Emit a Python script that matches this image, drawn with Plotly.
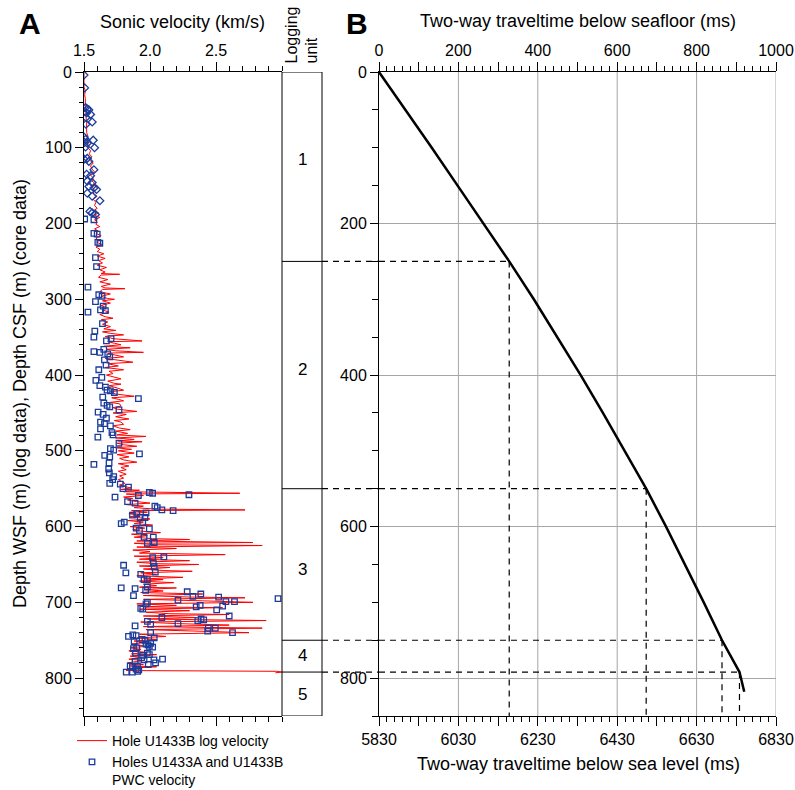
import plotly.graph_objects as go

W, H = 795, 790
FONT = "Liberation Sans, Arial, Helvetica, sans-serif"

def px(x):
    return x / W

def py(y):
    return 1 - y / H

# ---------------- Panel A data ----------------
# Hole U1433B log velocity (depth m, velocity km/s)
log_depth = [
    0, 5, 10, 15, 20, 25, 30, 35, 40, 45,
    50, 55, 60, 65, 70, 75, 80, 85, 90, 95,
    100, 104, 108, 112, 116, 120, 124, 128, 132, 136,
    140, 144, 148, 152, 156, 160, 164, 168, 172, 176,
    180, 183, 186, 189, 192, 195, 198, 201, 204, 207,
    210, 213, 216, 219, 222, 225, 228, 231, 234, 237,
    240, 243, 246, 249, 252, 255, 258, 261, 264, 266,
    267, 268, 271, 274, 277, 280, 283, 285, 286, 287,
    290, 293, 296, 299, 300, 302, 305, 308, 311, 314,
    317, 320, 323, 325, 327, 330, 333, 336, 339, 341,
    343, 345, 347, 349, 352, 355, 356, 358, 360, 362,
    364, 366, 368, 370, 371, 373, 376, 378, 380, 383,
    385, 388, 390, 393, 395, 398, 400, 403, 405, 408,
    411, 412, 414, 417, 420, 422, 425, 428, 430, 432,
    434, 436, 438, 441, 443, 445, 448, 450, 452, 455,
    458, 460, 462, 465, 467, 470, 472, 474, 477, 479,
    481, 483, 485, 487, 488, 490, 492, 494, 496, 498,
    500, 503, 505, 508, 510, 512, 515, 517, 520, 522,
    525, 527, 529, 531, 533, 536, 538, 540, 543, 545,
    547, 549, 551, 552, 554, 556, 557, 559, 561, 563,
    565, 567, 569, 571, 573, 575, 577, 578, 579, 581,
    583, 585, 587, 590, 592, 594, 596, 598, 600, 602,
    604, 606, 608, 610, 612, 614, 616, 617, 619, 621,
    622, 624, 625, 627, 629, 631, 633, 635, 637, 639,
    641, 643, 645, 647, 649, 650, 652, 654, 656, 658,
    659, 661, 663, 665, 667, 669, 670, 672, 674, 676,
    678, 680, 681, 683, 685, 687, 689, 691, 693, 694,
    696, 698, 700, 702, 704, 706, 707, 709, 711, 713,
    715, 716, 718, 720, 722, 724, 726, 728, 730, 732,
    734, 736, 738, 740, 742, 744, 745, 747, 749, 751,
    753, 755, 757, 758, 760, 762, 764, 766, 768, 769,
    771, 773, 775, 777, 778, 780, 782, 784, 785, 787,
    789, 790, 791, 792, 793,
]
log_velocity = [
    1.50, 1.50, 1.50, 1.505, 1.50, 1.51, 1.505, 1.51, 1.51, 1.515,
    1.51, 1.52, 1.515, 1.52, 1.52, 1.525, 1.52, 1.53, 1.525, 1.53,
    1.53, 1.55, 1.54, 1.56, 1.54, 1.57, 1.55, 1.56, 1.58, 1.55,
    1.57, 1.56, 1.59, 1.56, 1.58, 1.57, 1.60, 1.57, 1.59, 1.58,
    1.60, 1.57, 1.61, 1.58, 1.62, 1.58, 1.60, 1.59, 1.62, 1.58,
    1.61, 1.59, 1.63, 1.59, 1.61, 1.60, 1.64, 1.59, 1.62, 1.60,
    1.65, 1.60, 1.66, 1.61, 1.64, 1.60, 1.67, 1.62, 1.66, 1.63,
    1.77, 1.63, 1.61, 1.68, 1.62, 1.70, 1.63, 1.66, 1.81, 1.64,
    1.62, 1.70, 1.63, 1.68, 1.73, 1.64, 1.70, 1.63, 1.67, 1.64,
    1.69, 1.62, 1.66, 1.72, 1.63, 1.68, 1.64, 1.70, 1.65, 1.74,
    1.64, 1.70, 1.80, 1.66, 1.72, 1.94, 1.68, 1.73, 1.78, 1.65,
    1.85, 1.67, 1.74, 1.95, 1.68, 1.72, 1.80, 1.66, 1.75, 1.87,
    1.68, 1.76, 1.66, 1.80, 1.69, 1.72, 1.67, 1.74, 1.78, 1.68,
    1.73, 1.78, 1.69, 1.75, 1.80, 1.70, 1.74, 1.88, 1.71, 1.76,
    1.80, 1.70, 1.77, 1.78, 1.72, 1.75, 1.90, 1.72, 1.82, 1.74,
    1.84, 1.73, 1.78, 1.80, 1.72, 1.77, 1.85, 1.74, 1.83, 1.75,
    1.97, 1.74, 1.88, 1.76, 1.94, 1.75, 1.80, 1.90, 1.74, 1.86,
    1.76, 1.88, 1.75, 1.84, 1.77, 1.80, 1.90, 1.76, 1.84, 1.78,
    1.82, 1.76, 1.80, 1.82, 1.77, 1.80, 1.76, 1.78, 1.81, 1.77,
    1.80, 1.86, 1.78, 1.92, 1.80, 2.68, 1.82, 1.95, 1.80, 1.87,
    1.83, 1.90, 2.00, 1.82, 1.95, 1.88, 2.05, 2.72, 1.86, 1.98,
    1.84, 1.92, 1.85, 2.00, 1.83, 1.95, 1.88, 2.02, 1.85, 1.96,
    1.87, 1.93, 2.08, 1.86, 1.98, 1.88, 2.02, 2.30, 1.90, 2.78,
    1.88, 2.05, 2.85, 1.90, 2.20, 1.87, 2.00, 1.92, 2.57, 1.88,
    2.10, 1.92, 2.30, 1.90, 2.05, 2.37, 1.92, 2.15, 1.95, 2.10,
    2.32, 1.93, 2.05, 1.90, 2.25, 1.95, 2.10, 1.92, 2.18, 1.95,
    2.05, 1.92, 2.20, 1.96, 2.10, 1.93, 2.40, 1.95, 2.30, 2.72,
    1.95, 2.40, 2.78, 1.90, 2.20, 1.96, 2.55, 1.92, 2.30, 1.97,
    2.15, 2.60, 1.95, 2.35, 1.98, 2.88, 1.93, 2.20, 2.60, 1.95,
    2.85, 1.97, 2.40, 2.75, 1.92, 2.05, 2.12, 1.90, 2.05, 1.88,
    1.97, 1.86, 1.95, 1.97, 1.85, 1.93, 1.84, 1.98, 1.86, 2.05,
    1.85, 1.93, 1.84, 1.96, 1.90, 1.83, 1.95, 1.85, 2.05, 1.84,
    1.88, 1.82, 2.96, 3.00, 2.95,
]

# PWC velocity, shallow section (diamond symbols)
pwc_shallow_depth = [
    4, 21, 47, 49, 50, 54, 56, 60, 66, 69,
    86, 89, 90, 93, 94, 100, 99, 115, 114, 118,
    129, 135, 137, 144, 146, 151, 153, 155, 160, 164,
    170, 184, 186, 188,
]
pwc_shallow_velocity = [
    1.500, 1.505, 1.512, 1.525, 1.537, 1.520, 1.550, 1.515, 1.562, 1.515,
    1.500, 1.512, 1.570, 1.505, 1.525, 1.580, 1.512, 1.500, 1.525, 1.537,
    1.575, 1.520, 1.550, 1.525, 1.562, 1.537, 1.575, 1.595, 1.525, 1.562,
    1.620, 1.545, 1.562, 1.587,
]

# PWC velocity, deeper section (square symbols)
pwc_depth = [
    194, 195, 213, 214, 225, 226, 245, 257, 284, 294,
    296, 303, 309, 317, 314, 315, 332, 342, 350, 352,
    355, 369, 370, 366, 372, 376, 380, 387, 393, 403,
    407, 414, 416, 420, 421, 423, 429, 431, 437, 440,
    442, 446, 449, 452, 457, 462, 464, 467, 471, 476,
    479, 482, 490, 497, 499, 504, 506, 508, 518, 516,
    524, 529, 534, 538, 543, 544, 548, 550, 561, 559,
    555, 556, 558, 567, 569, 573, 575, 578, 579, 583,
    582, 585, 588, 588, 594, 596, 595, 602, 605, 603,
    614, 614, 622, 621, 641, 640, 651, 648, 653, 661,
    663, 660, 670, 670, 681, 682, 680, 684, 691, 686,
    692, 689, 697, 693, 699, 699, 702, 700, 704, 706,
    710, 705, 708, 709, 695, 720, 718, 724, 722, 723,
    728, 725, 729, 731, 734, 734, 738, 740, 740, 745,
    743, 744, 747, 752, 749, 750, 755, 756, 758, 754,
    759, 761, 760, 767, 769, 767, 770, 773, 778, 776,
    776, 780, 782, 775, 784, 785, 784, 788, 789, 791,
    792, 792,
]
pwc_velocity = [
    1.505, 1.575, 1.575, 1.600, 1.605, 1.620, 1.587, 1.595, 1.530, 1.612,
    1.637, 1.587, 1.645, 1.530, 1.625, 1.662, 1.640, 1.582, 1.575, 1.705,
    1.670, 1.575, 1.620, 1.650, 1.680, 1.695, 1.655, 1.667, 1.612, 1.635,
    1.590, 1.620, 1.662, 1.675, 1.700, 1.730, 1.642, 1.912, 1.650, 1.675,
    1.695, 1.765, 1.607, 1.645, 1.670, 1.625, 1.655, 1.700, 1.625, 1.712,
    1.720, 1.605, 1.765, 1.700, 1.725, 1.920, 1.657, 1.695, 1.575, 1.690,
    1.687, 1.692, 1.725, 1.717, 1.695, 1.775, 1.837, 1.795, 1.735, 1.912,
    1.995, 2.020, 2.295, 1.830, 1.887, 2.037, 2.055, 2.090, 2.175, 1.900,
    1.970, 1.867, 1.925, 1.962, 1.805, 1.782, 1.945, 1.895, 1.920, 1.995,
    1.955, 2.025, 1.980, 2.032, 2.020, 2.105, 1.800, 2.025, 2.032, 1.817,
    1.930, 2.040, 1.955, 1.980, 1.782, 1.887, 1.980, 1.967, 1.875, 2.282,
    2.325, 2.385, 2.212, 2.520, 2.575, 2.640, 1.970, 1.980, 2.380, 2.350,
    2.505, 2.550, 1.930, 1.945, 2.970, 2.090, 2.600, 2.362, 2.387, 2.407,
    2.212, 1.980, 2.005, 1.887, 2.495, 2.442, 2.437, 2.625, 2.005, 1.837,
    1.870, 1.895, 2.032, 1.880, 1.940, 1.962, 1.970, 1.985, 1.995, 2.005,
    2.020, 1.875, 1.900, 1.980, 1.995, 1.890, 1.945, 1.937, 1.887, 1.955,
    2.030, 2.042, 1.987, 2.095, 1.850, 1.867, 1.905, 1.895, 1.915, 1.907,
    1.820, 1.867,
]

# Logging units
unit_names = ["1", "2", "3", "4", "5"]
unit_label_depth = [115, 392, 657, 770, 821]
unit_boundary_depth = [250, 550, 750, 792]

# ---------------- Panel B data ----------------
twt_depth = [0, 50, 100, 150, 200, 250, 300, 350, 400, 450, 500, 550, 600, 650, 700, 750, 792, 818]
twt_below_seafloor = [0, 67, 133, 198, 264, 328, 390, 450, 508, 564, 619, 673, 723, 771, 818, 864, 908, 920]
boundary_twt = [328, 673, 864, 908]

depth_range = [850, 0]
top_ticks = [0, 100, 200, 300, 400, 500, 600, 700, 800, 900, 1000]
top_tick_text = ["0", "", "200", "", "400", "", "600", "", "800", "", "1000"]
bottom_ticks = [5830, 5930, 6030, 6130, 6230, 6330, 6430, 6530, 6630, 6730, 6830]
bottom_tick_text = ["5830", "", "6030", "", "6230", "", "6430", "", "6630", "", "6830"]
twt_grid = [200, 400, 600, 800, 1000]

BLUE = "#1c3c9c"
GRID = "#a6a6a6"

fig = go.Figure()

fig.add_trace(go.Scatter(
    x=log_velocity, y=log_depth, mode="lines",
    line=dict(color="#ff0000", width=1),
    name="Hole U1433B log velocity", xaxis="x", yaxis="y",
))
fig.add_trace(go.Scatter(
    x=pwc_shallow_velocity, y=pwc_shallow_depth, mode="markers",
    marker=dict(symbol="diamond-open", size=6, color=BLUE, line=dict(width=1.3, color=BLUE)),
    showlegend=False, xaxis="x", yaxis="y",
))
fig.add_trace(go.Scatter(
    x=pwc_velocity, y=pwc_depth, mode="markers",
    marker=dict(symbol="square-open", size=5.5, color=BLUE, line=dict(width=1.3, color=BLUE)),
    name="Holes U1433A and U1433B<br>PWC velocity", xaxis="x", yaxis="y",
))
fig.add_trace(go.Scatter(
    x=twt_below_seafloor, y=twt_depth, mode="lines",
    line=dict(color="black", width=2.5),
    showlegend=False, xaxis="x2", yaxis="y2",
))
# empty trace so that the sea-level (bottom) axis of panel B gets drawn
fig.add_trace(go.Scatter(
    x=[None], y=[None], mode="markers", showlegend=False, hoverinfo="skip",
    xaxis="x4", yaxis="y2",
))

ydom = [py(716), py(72)]
tickfont = dict(family=FONT, size=16, color="black")

fig.update_layout(
    width=W, height=H, autosize=False,
    margin=dict(l=0, r=0, t=0, b=0, pad=0, autoexpand=False),
    paper_bgcolor="white", plot_bgcolor="rgba(0,0,0,0)",
    font=dict(family=FONT, size=16, color="black"),
    xaxis=dict(
        domain=[px(84), px(282)], range=[1.5, 3.0], side="top", anchor="y",
        tickvals=[1.5, 2.0, 2.5], ticktext=["1.5", "2.0", "2.5"],
        ticks="outside", ticklen=9, tickwidth=1, tickcolor="black",
        minor=dict(dtick=0.1, tick0=1.5, ticks="outside", ticklen=5, tickcolor="black", tickwidth=1),
        showline=True, linecolor="black", linewidth=1, mirror="ticks",
        showgrid=False, zeroline=False, tickfont=tickfont,
    ),
    yaxis=dict(
        domain=ydom, range=depth_range, anchor="x",
        tick0=0, dtick=100, ticks="outside", ticklen=8, tickwidth=1, tickcolor="black",
        minor=dict(dtick=20, tick0=0, ticks="outside", ticklen=4, tickcolor="black", tickwidth=1),
        showline=True, linecolor="black", linewidth=1,
        showgrid=False, zeroline=False, tickfont=tickfont,
    ),
    xaxis2=dict(
        domain=[px(379), px(776)], range=[0, 1000], side="top", anchor="y2",
        tickvals=top_ticks, ticktext=top_tick_text,
        ticks="outside", ticklen=9, tickwidth=1, tickcolor="black",
        minor=dict(dtick=20, tick0=0, ticks="outside", ticklen=5, tickcolor="black", tickwidth=1),
        showline=True, linecolor="black", linewidth=1,
        showgrid=False, zeroline=False, tickfont=tickfont,
    ),
    xaxis4=dict(
        overlaying="x2", range=[5830, 6830], side="bottom", anchor="y2",
        tickvals=bottom_ticks, ticktext=bottom_tick_text,
        ticks="outside", ticklen=9, tickwidth=1, tickcolor="black",
        minor=dict(dtick=20, tick0=5830, ticks="outside", ticklen=5, tickcolor="black", tickwidth=1),
        showline=True, linecolor="black", linewidth=1,
        showgrid=False, zeroline=False, tickfont=tickfont,
    ),
    yaxis2=dict(
        domain=ydom, range=depth_range, anchor="x2",
        tick0=0, dtick=200, ticks="outside", ticklen=8, tickwidth=1, tickcolor="black",
        minor=dict(dtick=50, tick0=0, ticks="outside", ticklen=6, tickcolor="black", tickwidth=1),
        showline=True, linecolor="black", linewidth=1,
        showgrid=True, gridcolor=GRID, gridwidth=1, zeroline=False, tickfont=tickfont,
    ),
    legend=dict(
        x=px(72), y=py(725), xanchor="left", yanchor="top",
        bgcolor="rgba(0,0,0,0)", font=dict(family=FONT, size=14),
        valign="top", tracegroupgap=0, itemwidth=30,
    ),
    showlegend=True,
)

shapes = []
# vertical gridlines of panel B
for g in twt_grid:
    shapes.append(dict(type="line", xref="x2", yref="paper", x0=g, x1=g, y0=ydom[0], y1=ydom[1],
                       line=dict(color=GRID, width=1), layer="below"))
# logging unit column
shapes.append(dict(type="rect", xref="paper", yref="y", x0=px(282), x1=px(322), y0=0, y1=850,
                   line=dict(color="black", width=1)))
for d in unit_boundary_depth:
    shapes.append(dict(type="line", xref="paper", yref="y", x0=px(282), x1=px(322), y0=d, y1=d,
                       line=dict(color="black", width=1)))
# dashed connection lines
for d, t in zip(unit_boundary_depth, boundary_twt):
    shapes.append(dict(type="line", xref="paper", yref="y2", x0=px(322), x1=px(379), y0=d, y1=d,
                       line=dict(color="black", width=1.2, dash="6px,5px")))
    shapes.append(dict(type="line", xref="x2", yref="y2", x0=0, x1=t, y0=d, y1=d,
                       line=dict(color="black", width=1.2, dash="6px,5px")))
    shapes.append(dict(type="line", xref="x2", yref="y2", x0=t, x1=t, y0=d, y1=850,
                       line=dict(color="black", width=1.2, dash="6px,5px")))
fig.update_layout(shapes=shapes)


def label(text, x, y, size, angle=0, xanchor="center", yanchor="middle", align="center", yref="paper"):
    return dict(text=text, x=x, y=y, xref="paper", yref=yref, xanchor=xanchor, yanchor=yanchor,
                align=align, textangle=angle, showarrow=False,
                font=dict(family=FONT, size=size, color="black"))


ann = [
    label("<b>A</b>", px(30), py(23), 30),
    label("<b>B</b>", px(357), py(23), 30),
    label("Sonic velocity (km/s)", px(182), py(22), 18),
    label("Logging<br>unit", px(301), py(66), 16, angle=-90, yanchor="bottom", align="left"),
    label("Two-way traveltime below seafloor (ms)", px(578), py(21), 18),
    label("Two-way traveltime below sea level (ms)", px(578), py(764), 18),
    label("Depth WSF (m) (log data), Depth CSF (m) (core data)", px(20), py(394), 18, angle=-90),
]
for name, d in zip(unit_names, unit_label_depth):
    ann.append(label(name, px(302), d, 17, yref="y"))
fig.update_layout(annotations=ann)

# remove the browser's default 8px page margin so the figure fills the window exactly
fig.write_html(
    "out.html",
    config={"displayModeBar": False},
    post_script="document.body.style.margin='0px';document.body.style.overflow='hidden';",
)
